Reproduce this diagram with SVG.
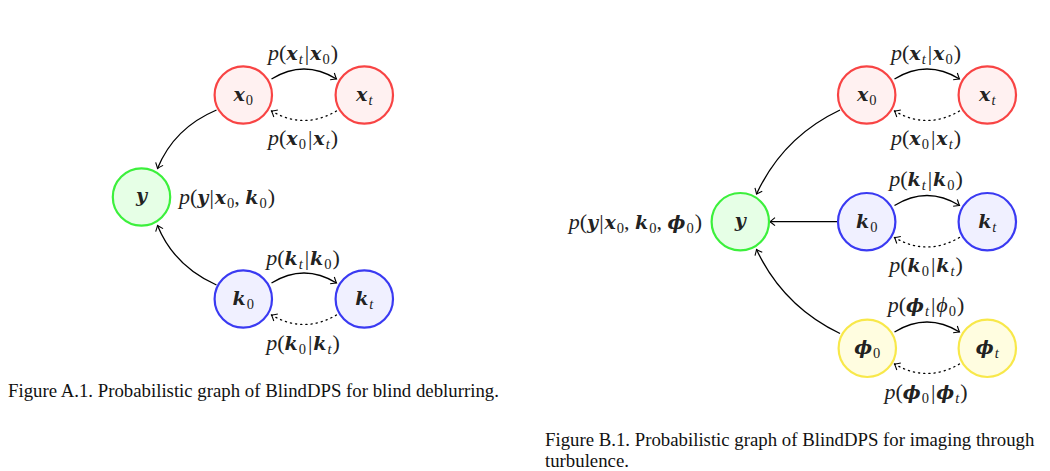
<svg xmlns="http://www.w3.org/2000/svg" width="1050" height="471" viewBox="0 0 1050 471">
<style>
.m{font-family:"Liberation Serif","DejaVu Serif",serif;font-size:22px;fill:#222}
.i{font-style:italic}
.b{font-family:"DejaVu Serif","Liberation Serif",serif;font-style:italic;font-weight:bold;font-size:19px}
.s{font-size:14.5px}
.cap{font-family:"Liberation Serif","Times New Roman",serif;font-size:18.8px;fill:#111}
.red{fill:#fff1f1;stroke:#f84444;stroke-width:2.2}
.grn{fill:#e6ffe6;stroke:#3cf03c;stroke-width:2.2}
.blu{fill:#f0f0ff;stroke:#3a3af2;stroke-width:2.2}
.yel{fill:#fffde0;stroke:#f8e84a;stroke-width:2.2}
.e{fill:none;stroke:#000;stroke-width:1.3;marker-end:url(#arr)}
.d{fill:none;stroke:#000;stroke-width:1.3;stroke-dasharray:1.2 4;stroke-linecap:round;marker-end:url(#arr)}
</style>
<defs>
<marker id="arr" viewBox="-6 -5 8 10" refX="0" refY="0" markerWidth="8" markerHeight="10" markerUnits="userSpaceOnUse" orient="auto">
<path d="M-5,-4 Q-1.5,-1 0,0 Q-1.5,1 -5,4" fill="none" stroke="#000" stroke-width="1.1"/>
</marker>
</defs>
<rect width="1050" height="471" fill="#fff"/>

<g id="connectors">
<!-- left -->
<path class="e" d="M271.5,79 Q304,59 336.5,79"/>
<path class="d" d="M336.5,111 Q304,130 271.5,111"/>
<path class="e" d="M216.5,110 Q174,128 157.5,168.5"/>
<path class="e" d="M271.5,283 Q304,263 336.5,283"/>
<path class="d" d="M336.5,315 Q304,334 271.5,315"/>
<path class="e" d="M216.5,285 Q174,266 157.5,225.5"/>
<!-- right -->
<path class="e" d="M894.5,79 Q927,59 959.5,79"/>
<path class="d" d="M959.5,111 Q927,130 894.5,111"/>
<path class="e" d="M840,110 Q783,137 756.5,194"/>
<path class="e" d="M894.5,205.5 Q927,185.5 959.5,205.5"/>
<path class="d" d="M959.5,237.5 Q927,256.5 894.5,237.5"/>
<path class="e" d="M837.5,221.7 L770,221.7"/>
<path class="e" d="M894.5,332 Q927,312 959.5,332"/>
<path class="d" d="M959.5,364 Q927,383 894.5,364"/>
<path class="e" d="M840,333.5 Q783,306 756.5,249.5"/>
</g>

<g id="edge-labels">
<text class="m" x="303" y="60" text-anchor="middle"><tspan class="i">p</tspan>(<tspan class="b">x</tspan><tspan class="s i" dy="4" dx="1">t</tspan><tspan dy="-4" dx="2">|</tspan><tspan class="b" dx="1">x</tspan><tspan class="s" dy="4" dx="1">0</tspan><tspan dy="-4" dx="1">)</tspan></text>
<text class="m" x="303" y="145" text-anchor="middle"><tspan class="i">p</tspan>(<tspan class="b">x</tspan><tspan class="s" dy="4" dx="1">0</tspan><tspan dy="-4" dx="2">|</tspan><tspan class="b" dx="1">x</tspan><tspan class="s i" dy="4" dx="1">t</tspan><tspan dy="-4" dx="1">)</tspan></text>
<text class="m" x="179" y="204"><tspan class="i">p</tspan>(<tspan class="b">y</tspan><tspan dx="1">|</tspan><tspan class="b" dx="1">x</tspan><tspan class="s" dy="4" dx="1">0</tspan><tspan dy="-4">, </tspan><tspan class="b">k</tspan><tspan class="s" dy="4" dx="1">0</tspan><tspan dy="-4" dx="1">)</tspan></text>
<text class="m" x="303" y="265" text-anchor="middle"><tspan class="i">p</tspan>(<tspan class="b">k</tspan><tspan class="s i" dy="4" dx="1">t</tspan><tspan dy="-4" dx="2">|</tspan><tspan class="b" dx="1">k</tspan><tspan class="s" dy="4" dx="1">0</tspan><tspan dy="-4" dx="1">)</tspan></text>
<text class="m" x="303" y="350" text-anchor="middle"><tspan class="i">p</tspan>(<tspan class="b">k</tspan><tspan class="s" dy="4" dx="1">0</tspan><tspan dy="-4" dx="2">|</tspan><tspan class="b" dx="1">k</tspan><tspan class="s i" dy="4" dx="1">t</tspan><tspan dy="-4" dx="1">)</tspan></text>

<text class="m" x="926" y="60" text-anchor="middle"><tspan class="i">p</tspan>(<tspan class="b">x</tspan><tspan class="s i" dy="4" dx="1">t</tspan><tspan dy="-4" dx="2">|</tspan><tspan class="b" dx="1">x</tspan><tspan class="s" dy="4" dx="1">0</tspan><tspan dy="-4" dx="1">)</tspan></text>
<text class="m" x="926" y="145" text-anchor="middle"><tspan class="i">p</tspan>(<tspan class="b">x</tspan><tspan class="s" dy="4" dx="1">0</tspan><tspan dy="-4" dx="2">|</tspan><tspan class="b" dx="1">x</tspan><tspan class="s i" dy="4" dx="1">t</tspan><tspan dy="-4" dx="1">)</tspan></text>
<text class="m" x="926" y="186" text-anchor="middle"><tspan class="i">p</tspan>(<tspan class="b">k</tspan><tspan class="s i" dy="4" dx="1">t</tspan><tspan dy="-4" dx="2">|</tspan><tspan class="b" dx="1">k</tspan><tspan class="s" dy="4" dx="1">0</tspan><tspan dy="-4" dx="1">)</tspan></text>
<text class="m" x="926" y="272" text-anchor="middle"><tspan class="i">p</tspan>(<tspan class="b">k</tspan><tspan class="s" dy="4" dx="1">0</tspan><tspan dy="-4" dx="2">|</tspan><tspan class="b" dx="1">k</tspan><tspan class="s i" dy="4" dx="1">t</tspan><tspan dy="-4" dx="1">)</tspan></text>
<text class="m" x="702" y="229" text-anchor="end"><tspan class="i">p</tspan>(<tspan class="b">y</tspan><tspan dx="1">|</tspan><tspan class="b" dx="1">x</tspan><tspan class="s" dy="4" dx="1">0</tspan><tspan dy="-4">, </tspan><tspan class="b">k</tspan><tspan class="s" dy="4" dx="1">0</tspan><tspan dy="-4">, </tspan><tspan class="b">ϕ</tspan><tspan class="s" dy="4" dx="1">0</tspan><tspan dy="-4" dx="1">)</tspan></text>
<text class="m" x="926" y="312" text-anchor="middle"><tspan class="i">p</tspan>(<tspan class="b">ϕ</tspan><tspan class="s i" dy="4" dx="1">t</tspan><tspan dy="-4" dx="2">|</tspan><tspan class="i" dx="1">ϕ</tspan><tspan class="s" dy="4" dx="1">0</tspan><tspan dy="-4" dx="1">)</tspan></text>
<text class="m" x="926" y="399" text-anchor="middle"><tspan class="i">p</tspan>(<tspan class="b">ϕ</tspan><tspan class="s" dy="4" dx="1">0</tspan><tspan dy="-4" dx="2">|</tspan><tspan class="b" dx="1">ϕ</tspan><tspan class="s i" dy="4" dx="1">t</tspan><tspan dy="-4" dx="1">)</tspan></text>
</g>

<g id="node-A-x0"><circle class="red" cx="243.3" cy="95" r="28.7"/><text class="m" x="243.3" y="101" text-anchor="middle"><tspan class="b">x</tspan><tspan class="s" dy="4" dx="1">0</tspan></text></g>
<g id="node-A-xt"><circle class="red" cx="364.3" cy="95" r="28.7"/><text class="m" x="364.3" y="101" text-anchor="middle"><tspan class="b">x</tspan><tspan class="s i" dy="4" dx="1">t</tspan></text></g>
<g id="node-A-y"><circle class="grn" cx="141.5" cy="197" r="28.7"/><text class="m" x="141.5" y="202" text-anchor="middle"><tspan class="b">y</tspan></text></g>
<g id="node-A-k0"><circle class="blu" cx="243.3" cy="299" r="28.7"/><text class="m" x="243.3" y="305" text-anchor="middle"><tspan class="b">k</tspan><tspan class="s" dy="4" dx="1">0</tspan></text></g>
<g id="node-A-kt"><circle class="blu" cx="364.3" cy="299" r="28.7"/><text class="m" x="364.3" y="305" text-anchor="middle"><tspan class="b">k</tspan><tspan class="s i" dy="4" dx="1">t</tspan></text></g>

<g id="node-B-x0"><circle class="red" cx="866.7" cy="95" r="28.7"/><text class="m" x="866.7" y="101" text-anchor="middle"><tspan class="b">x</tspan><tspan class="s" dy="4" dx="1">0</tspan></text></g>
<g id="node-B-xt"><circle class="red" cx="987.3" cy="95" r="28.7"/><text class="m" x="987.3" y="101" text-anchor="middle"><tspan class="b">x</tspan><tspan class="s i" dy="4" dx="1">t</tspan></text></g>
<g id="node-B-y"><circle class="grn" cx="740.3" cy="221.7" r="28.7"/><text class="m" x="740.3" y="227" text-anchor="middle"><tspan class="b">y</tspan></text></g>
<g id="node-B-k0"><circle class="blu" cx="866.7" cy="221.7" r="28.7"/><text class="m" x="866.7" y="228" text-anchor="middle"><tspan class="b">k</tspan><tspan class="s" dy="4" dx="1">0</tspan></text></g>
<g id="node-B-kt"><circle class="blu" cx="987.3" cy="221.7" r="28.7"/><text class="m" x="987.3" y="228" text-anchor="middle"><tspan class="b">k</tspan><tspan class="s i" dy="4" dx="1">t</tspan></text></g>
<g id="node-B-phi0"><circle class="yel" cx="867.3" cy="348.3" r="28.7"/><text class="m" x="867.3" y="354" text-anchor="middle"><tspan class="b">ϕ</tspan><tspan class="s" dy="4" dx="1">0</tspan></text></g>
<g id="node-B-phit"><circle class="yel" cx="987.3" cy="348.3" r="28.7"/><text class="m" x="987.3" y="354" text-anchor="middle"><tspan class="b">ϕ</tspan><tspan class="s i" dy="4" dx="1">t</tspan></text></g>

<g id="captions">
<text class="cap" x="8" y="397">Figure A.1. Probabilistic graph of BlindDPS for blind deblurring.</text>
<text class="cap" x="545" y="446">Figure B.1. Probabilistic graph of BlindDPS for imaging through</text>
<text class="cap" x="545" y="467">turbulence.</text>
</g>
</svg>
